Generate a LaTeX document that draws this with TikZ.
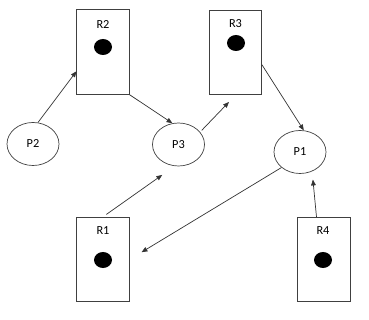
\documentclass[tikz,border=0pt]{standalone}
\usepackage{fontspec}
\setmainfont{Carlito}
\usetikzlibrary{arrows.meta,shapes.geometric}

\begin{document}
\begin{tikzpicture}[x=0.03cm,y=-0.03cm,>={Triangle[length=5pt,width=4pt]},
  every node/.style={font=\fontsize{10.5}{12}\selectfont},
  res/.style={rectangle,draw=black!75,line width=0.6pt,minimum width=1.57cm,minimum height=2.54cm,inner sep=0pt},
  proc/.style={ellipse,draw=black!75,line width=0.6pt,minimum width=1.56cm,minimum height=1.29cm,inner sep=0pt},
  tok/.style={ellipse,fill=black,minimum width=0.54cm,minimum height=0.48cm,inner sep=0pt},
  link/.style={->,draw=black!80,line width=0.6pt}]
  \useasboundingbox (0,0) rectangle (369,320);
  \node[res] (r2) at (103,52) {};
  \node[res] (r3) at (235.5,52.5) {};
  \node[res] (r1) at (103,259.5) {};
  \node[res] (r4) at (324,259.5) {};
  \node (r2lab) at (103,24.5) {R2};
  \node (r3lab) at (235.5,23.5) {R3};
  \node (r1lab) at (103,231) {R1};
  \node (r4lab) at (323,231) {R4};
  \node[tok] (r2dot) at (103,47) {};
  \node[tok] (r3dot) at (236,43) {};
  \node[tok] (r1dot) at (103,260) {};
  \node[tok] (r4dot) at (323,260) {};
  \node[proc] (p2) at (33,144) {P2};
  \node[proc] (p3) at (178.5,144.5) {P3};
  \node[proc] (p1) at (300,152) {P1};
  \draw[link] (p2.77) -- (r2.216);
  \draw[link] (r2.south east) -- (p3.106);
  \draw[link,shorten <=2pt,shorten >=8pt] (p3.30) -- (r3.south);
  \draw[link] (r3.-25) -- (p1.80);
  \draw[link,shorten >=12pt] (p1.220) -- (r1.east);
  \draw[link,shorten <=3.5pt,shorten >=13pt] (r1.north) -- (p3.260);
  \draw[link,shorten >=7pt] (r4.100) -- (p1.302);
\end{tikzpicture}
\end{document}
